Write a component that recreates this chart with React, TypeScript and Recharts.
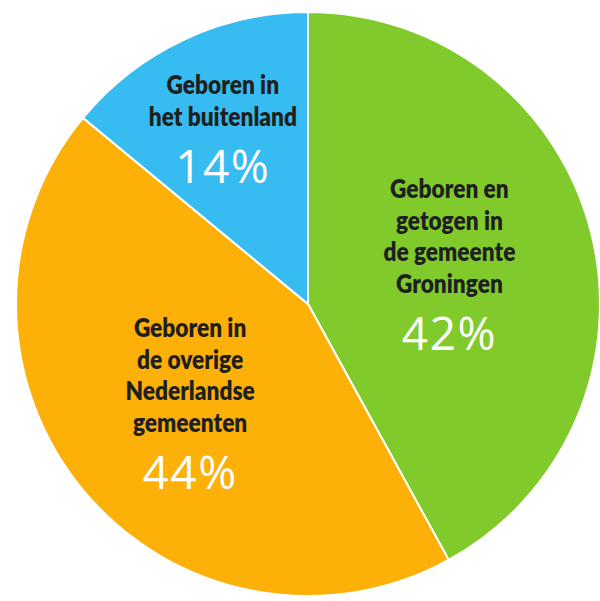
import React from 'react';
import { PieChart, Pie, Cell } from 'recharts';

// Herkomst van de inwoners (aandeel in %)
const categories = ['Geboren en getogen in de gemeente Groningen', 'Geboren in de overige Nederlandse gemeenten', 'Geboren in het buitenland'];
const shares = [42, 44, 14];
const labelLines = [
  ['Geboren en', 'getogen in', 'de gemeente', 'Groningen'],
  ['Geboren in', 'de overige', 'Nederlandse', 'gemeenten'],
  ['Geboren in', 'het buitenland'],
];

const COLORS = ['#80cb2b', '#fcb008', '#37bcf1'];
// how far out along the mid angle each label block sits, plus a small vertical nudge
const LABEL_RADIUS = [0.5, 0.524, 0.685];
const LABEL_NUDGE = [-8, -3, 1];

const LINE_H = 31.5;
const PCT_GAP = 50;
const NARROW = 0.84; // no condensed font installed, so squeeze horizontally

const data = categories.map((name, i) => ({ name, value: shares[i] }));

const RAD = Math.PI / 180;

const renderLabel = (props: any) => {
  const { cx, cy, midAngle, outerRadius, index, value } = props;
  const r = outerRadius * LABEL_RADIUS[index];
  const x = cx + r * Math.cos(-midAngle * RAD);
  const yc = cy + r * Math.sin(-midAngle * RAD) + LABEL_NUDGE[index];
  const lines = labelLines[index];
  // block = lines + percentage; yc is the middle between first line and percentage
  const span = (lines.length - 1) * LINE_H + PCT_GAP;
  const top = yc - span / 2;
  return (
    <g>
      <g transform={`translate(${x},0) scale(${NARROW},1)`}>
        {lines.map((t, k) => (
          <text
            key={k}
            x={0}
            y={top + k * LINE_H}
            textAnchor="middle"
            dominantBaseline="central"
            fill="#1f1f1f"
            style={{ fontFamily: 'Lato, sans-serif', fontWeight: 800, fontSize: 27 }}
          >
            {t}
          </text>
        ))}
      </g>
      <text
        x={x}
        y={top + span}
        textAnchor="middle"
        dominantBaseline="central"
        fill="#ffffff"
        style={{ fontFamily: "'Open Sans', sans-serif", fontWeight: 500, fontSize: 46, letterSpacing: 1.5 }}
      >
        {value}%
      </text>
    </g>
  );
};

export default function App() {
  return (
    <div style={{ position: 'absolute', left: 0, top: 0, width: 600, height: 601, background: '#fff' }}>
      <PieChart width={600} height={601} margin={{ top: 0, right: 0, bottom: 0, left: 0 }}>
        <Pie
          data={data}
          dataKey="value"
          nameKey="name"
          cx={308}
          cy={304}
          outerRadius={292}
          startAngle={90}
          endAngle={-270}
          stroke="#ffffff"
          strokeWidth={2}
          label={renderLabel}
          labelLine={false}
          isAnimationActive={false}
        >
          {data.map((d, i) => (
            <Cell key={d.name} fill={COLORS[i]} />
          ))}
        </Pie>
      </PieChart>
    </div>
  );
}
